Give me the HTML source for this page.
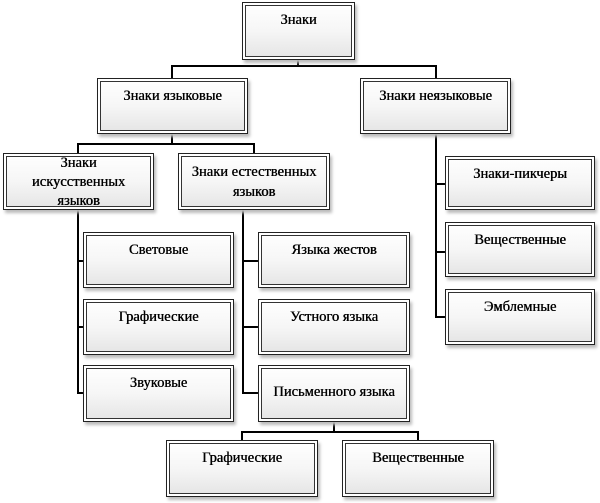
<!DOCTYPE html>
<html><head><meta charset="utf-8"><style>
body{margin:0;width:600px;height:503px;background:#fff;position:relative;overflow:hidden;font-family:"Liberation Serif","DejaVu Serif",serif;}
.b{position:absolute;box-sizing:border-box;border:1px solid #222;background:linear-gradient(#fff 0%,#f6f6f6 50%,#e4e4e4 100%);box-shadow:inset 0 0 0 2px #fff,inset 0 0 0 3px #333,2px 3px 3px #bbb;font-size:14.5px;color:#000;text-align:center;padding-top:9px;line-height:17px;text-shadow:0.4px 0 0 #000;}
.l{position:absolute;background:#000;}
</style></head><body>
<div class="l" style="left:297px;top:60px;width:2px;height:6px"></div>
<div class="l" style="left:171px;top:65px;width:266px;height:2px"></div>
<div class="l" style="left:171px;top:65px;width:2px;height:14px"></div>
<div class="l" style="left:435px;top:65px;width:2px;height:14px"></div>

<div class="l" style="left:171px;top:134px;width:2px;height:10px"></div>
<div class="l" style="left:77px;top:143px;width:178px;height:2px"></div>
<div class="l" style="left:77px;top:143px;width:2px;height:11px"></div>
<div class="l" style="left:253px;top:143px;width:2px;height:11px"></div>

<div class="l" style="left:77px;top:210px;width:2px;height:184px"></div>
<div class="l" style="left:77px;top:260px;width:7px;height:2px"></div>
<div class="l" style="left:77px;top:326px;width:7px;height:2px"></div>
<div class="l" style="left:77px;top:392px;width:7px;height:2px"></div>

<div class="l" style="left:242px;top:210px;width:2px;height:184px"></div>
<div class="l" style="left:242px;top:260px;width:17px;height:2px"></div>
<div class="l" style="left:242px;top:326px;width:17px;height:2px"></div>
<div class="l" style="left:242px;top:392px;width:17px;height:2px"></div>

<div class="l" style="left:435px;top:134px;width:2px;height:184px"></div>
<div class="l" style="left:435px;top:183px;width:11px;height:2px"></div>
<div class="l" style="left:435px;top:251px;width:11px;height:2px"></div>
<div class="l" style="left:435px;top:316px;width:11px;height:2px"></div>

<div class="l" style="left:333px;top:422px;width:2px;height:10px"></div>
<div class="l" style="left:241px;top:431px;width:178px;height:2px"></div>
<div class="l" style="left:241px;top:431px;width:2px;height:10px"></div>
<div class="l" style="left:417px;top:431px;width:2px;height:10px"></div>

<div class="b" style="left:242px;top:2px;width:113px;height:58px">Знаки</div>
<div class="b" style="left:97px;top:78px;width:151px;height:56px">Знаки языковые</div>
<div class="b" style="left:360px;top:78px;width:151px;height:56px">Знаки неязыковые</div>
<div class="b" style="left:3px;top:153px;width:151px;height:57px;padding-top:0px;line-height:19px">Знаки<br>искусственных<br>языков</div>
<div class="b" style="left:178px;top:153px;width:152px;height:57px;padding-top:8px;line-height:20px;white-space:nowrap">Знаки естественных<br>языков</div>
<div class="b" style="left:445px;top:156px;width:150px;height:54px">Знаки-пикчеры</div>
<div class="b" style="left:445px;top:222px;width:150px;height:55px">Вещественные</div>
<div class="b" style="left:445px;top:289px;width:150px;height:56px">Эмблемные</div>
<div class="b" style="left:83px;top:232px;width:151px;height:56px">Световые</div>
<div class="b" style="left:83px;top:299px;width:151px;height:56px">Графические</div>
<div class="b" style="left:83px;top:365px;width:151px;height:57px">Звуковые</div>
<div class="b" style="left:258px;top:232px;width:152px;height:56px">Языка жестов</div>
<div class="b" style="left:258px;top:299px;width:152px;height:56px">Устного языка</div>
<div class="b" style="left:258px;top:365px;width:152px;height:57px;padding-top:18px">Письменного языка</div>
<div class="b" style="left:166px;top:440px;width:152px;height:57px">Графические</div>
<div class="b" style="left:342px;top:440px;width:152px;height:57px">Вещественные</div>
</body></html>
